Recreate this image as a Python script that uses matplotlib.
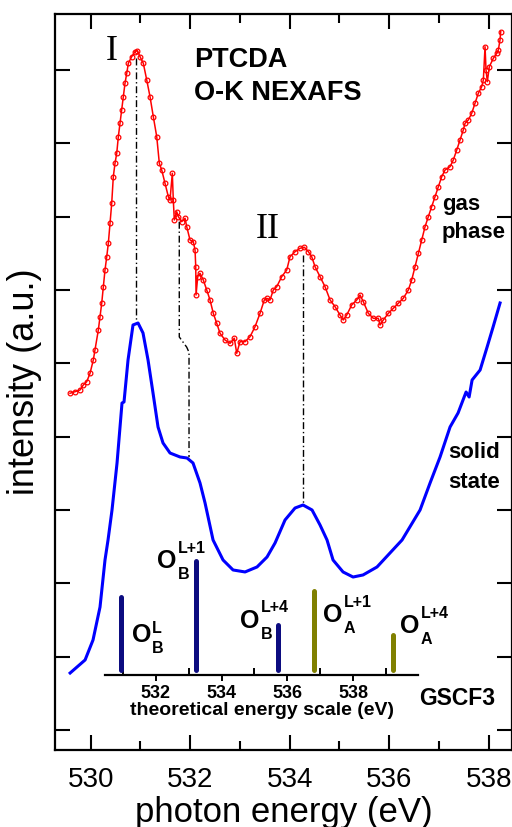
import numpy as np
import matplotlib
matplotlib.use("Agg")
import matplotlib.pyplot as plt

plt.rcParams['font.family'] = ['Liberation Sans', 'DejaVu Sans']

# gas phase spectrum (photon energy eV, intensity a.u.)
gas_e = [529.584, 529.684, 529.785, 529.851, 529.920, 529.986, 530.052, 530.086, 530.153, 530.187,
         530.221, 530.253, 530.287, 530.322, 530.354, 530.388, 530.422, 530.454, 530.488, 530.523,
         530.555, 530.589, 530.623, 530.655, 530.689, 530.724, 530.756, 530.824, 530.890, 530.937,
         530.991, 531.057, 531.126, 531.192, 531.258, 531.327, 531.379, 531.427, 531.493, 531.560,
         531.594, 531.640, 531.660, 531.680, 531.729, 531.761, 531.829, 531.896, 531.930, 531.996,
         532.062, 532.097, 532.111, 532.117, 532.151, 532.197, 532.263, 532.332, 532.398, 532.464,
         532.533, 532.599, 532.700, 532.800, 532.886, 532.935, 533.001, 533.102, 533.202, 533.303,
         533.403, 533.489, 533.538, 533.604, 533.670, 533.739, 533.839, 533.940, 534.006, 534.107,
         534.207, 534.294, 534.374, 534.442, 534.509, 534.610, 534.710, 534.811, 534.911, 535.011,
         535.077, 535.146, 535.246, 535.347, 535.413, 535.479, 535.580, 535.680, 535.781, 535.815,
         535.881, 535.982, 536.082, 536.183, 536.283, 536.384, 536.452, 536.519, 536.585, 536.653,
         536.720, 536.786, 536.854, 536.921, 536.987, 537.055, 537.122, 537.223, 537.288, 537.357,
         537.423, 537.489, 537.524, 537.590, 537.658, 537.725, 537.791, 537.859, 537.892, 537.926,
         537.946, 537.972, 538.012, 538.093, 538.161, 538.193, 538.227, 538.241]
gas_i = [4.592, 4.613, 4.637, 4.705, 4.750, 4.864, 5.046, 5.182, 5.455, 5.636,
         5.819, 6.045, 6.273, 6.454, 6.637, 6.910, 7.183, 7.545, 7.728, 7.864,
         8.091, 8.273, 8.455, 8.636, 8.819, 8.955, 9.092, 9.182, 9.250, 9.264,
         9.182, 9.092, 8.864, 8.636, 8.364, 8.091, 7.728, 7.637, 7.455, 7.273,
         7.228, 7.592, 7.228, 6.955, 7.068, 7.000, 6.932, 6.978, 6.863, 6.682,
         6.659, 6.546, 6.318, 5.932, 6.182, 6.228, 6.137, 6.000, 5.864, 5.682,
         5.546, 5.410, 5.318, 5.273, 5.342, 5.137, 5.295, 5.295, 5.363, 5.500,
         5.682, 5.864, 5.887, 5.864, 6.000, 6.045, 6.182, 6.273, 6.454, 6.523,
         6.569, 6.583, 6.523, 6.454, 6.318, 6.182, 6.045, 5.864, 5.773, 5.659,
         5.591, 5.659, 5.796, 5.864, 5.932, 5.841, 5.682, 5.614, 5.614, 5.523,
         5.591, 5.682, 5.751, 5.819, 5.887, 6.000, 6.137, 6.318, 6.501, 6.682,
         6.863, 7.000, 7.136, 7.273, 7.409, 7.545, 7.637, 7.682, 7.773, 7.909,
         8.046, 8.182, 8.273, 8.319, 8.410, 8.546, 8.683, 8.773, 8.864, 9.318,
         9.000, 8.841, 9.045, 9.160, 9.228, 9.273, 9.410, 9.523]

# solid state spectrum
sol_e = [529.586, 529.887, 530.046, 530.187, 530.287, 530.348, 530.428, 530.529,
         530.629, 530.669, 530.750, 530.850, 530.951, 531.051, 531.152, 531.252,
         531.353, 531.453, 531.594, 531.795, 531.936, 532.056, 532.197, 532.298,
         532.459, 532.660, 532.861, 533.102, 533.343, 533.544, 533.705, 533.906,
         534.107, 534.268, 534.449, 534.609, 534.750, 534.871, 535.072, 535.273,
         535.474, 535.755, 536.016, 536.258, 536.620, 536.821, 537.022, 537.223,
         537.384, 537.545, 537.606, 537.666, 537.827, 537.968, 538.088, 538.228]
sol_i = [0.777, 0.955, 1.227, 1.677, 2.318, 2.591, 3.000, 3.641,
         4.459, 4.473, 5.046, 5.523, 5.550, 5.414, 5.046, 4.596,
         4.132, 3.914, 3.777, 3.723, 3.709, 3.641, 3.368, 3.096,
         2.591, 2.318, 2.182, 2.155, 2.223, 2.359, 2.550, 2.864,
         3.027, 3.068, 3.000, 2.796, 2.591, 2.318, 2.155, 2.086,
         2.114, 2.223, 2.414, 2.591, 3.000, 3.368, 3.723, 4.132,
         4.323, 4.609, 4.541, 4.773, 4.909, 5.223, 5.496, 5.823]

# GSCF3 theoretical transitions
th_e = [530.95, 533.22, 535.72, 536.81, 539.20]
th_h = [80, 116, 52, 86, 42]
th_col = ['#0c0c80', '#0c0c80', '#0c0c80', '#808000', '#808000']
th_sub = ['B', 'B', 'B', 'A', 'A']
th_sup = ['L', 'L+1', 'L+4', 'L+1', 'L+4']

fig = plt.figure(figsize=(5.12, 8.27), dpi=100)
ax = fig.add_axes([55/512, 77/827, 457/512, 736/827])
ax.set_xlim(529.282, 538.468)
ax.set_ylim(-0.273, 9.764)

ax.plot(gas_e, gas_i, color='red', lw=1.1, marker='o', ms=3.4, mfc='none', mec='red', mew=0.9)
ax.plot(sol_e, sol_i, color='#0000ff', lw=2.2)

dd = (0, (5, 2, 1, 2))
ax.plot([530.905, 530.905], [9.16, 5.59], color='k', lw=1.0, ls=dd)
ax.plot([531.78, 531.78, 531.93, 531.976, 531.976], [6.93, 5.36, 5.22, 5.15, 3.72], color='k', lw=1.0, ls=dd)
ax.plot([534.273, 534.273], [6.48, 3.07], color='k', lw=1.0, ls=dd)

ax.set_xticks([530, 532, 534, 536, 538])
ax.set_xticks([531, 533, 535, 537], minor=True)
ax.set_yticks(range(10))
ax.set_yticklabels([])
ax.tick_params(which='both', direction='in', top=True, right=True, width=1.5, labelsize=20, pad=12)
ax.tick_params(which='major', length=11)
ax.tick_params(which='minor', length=6.5)
for s in ax.spines.values():
    s.set_linewidth(1.6)
ax.set_xlabel('photon energy (eV)', fontsize=25)
ax.set_ylabel('intensity (a.u.)', fontsize=26)
ax.xaxis.set_label_coords(0.5, -0.062)
ax.yaxis.set_label_coords(-0.029, 0.5)

def ftext(x, y, s, **kw):
    # place text by pixel position of the 512x827 canvas
    return fig.text(x/512, 1 - y/827, s, **kw)

ftext(112, 52, 'I', family='Liberation Serif', fontsize=26, ha='center', va='center')
ftext(268, 230, 'II', family='Liberation Serif', fontsize=26, ha='center', va='center')
ftext(194, 67, 'PTCDA', fontsize=19.5, weight='bold')
ftext(194, 100, 'O-K NEXAFS', fontsize=19.5, weight='bold')
ftext(442, 210, 'gas', fontsize=16, weight='bold')
ftext(442, 238, 'phase', fontsize=16, weight='bold')
ftext(448, 458, 'solid', fontsize=16, weight='bold')
ftext(448, 488, 'state', fontsize=16, weight='bold')
ftext(419, 705, 'GSCF3', fontsize=16.5, weight='bold')

# inset with theoretical energy scale
ins = fig.add_axes([105/512, 152/827, 313/512, 120/827])
ins.set_xlim(530.46, 539.97)
ins.set_ylim(0, 120)
ins.patch.set_alpha(0)
for k in ['top', 'left', 'right']:
    ins.spines[k].set_visible(False)
ins.spines['bottom'].set_linewidth(1.6)
ins.set_yticks([])
ins.set_xticks([532, 534, 536, 538])
ins.set_xticks([531, 533, 535, 537, 539], minor=True)
ins.tick_params(which='major', direction='out', length=4, width=1.4, labelsize=13, pad=3)
ins.tick_params(which='minor', direction='in', length=5, width=1.4)
for lab in ins.get_xticklabels():
    lab.set_fontweight('bold')
ins.set_xlabel('theoretical energy scale (eV)', fontsize=14, weight='bold', labelpad=0)
ins.vlines(th_e, 5, np.array(th_h) - 2, colors=th_col, lw=3.6, capstyle='round')

# state labels: O with subscript and superscript
lab_pos = [(131.7, 641.7), (157, 568), (240, 628), (323, 622), (400, 633)]
sup_dy = [-8.5, -15, -16, -15, -15]
for (px, py), sb, sp, dy in zip(lab_pos, th_sub, th_sup, sup_dy):
    ftext(px, py, 'O', fontsize=18, weight='bold', va='baseline')
    ftext(px + 20.5, py + 11, sb, fontsize=11.5, weight='bold', va='baseline')
    ftext(px + 20.5, py + dy, sp, fontsize=11.5, weight='bold', va='baseline')

fig.savefig('out.png', dpi=100)
